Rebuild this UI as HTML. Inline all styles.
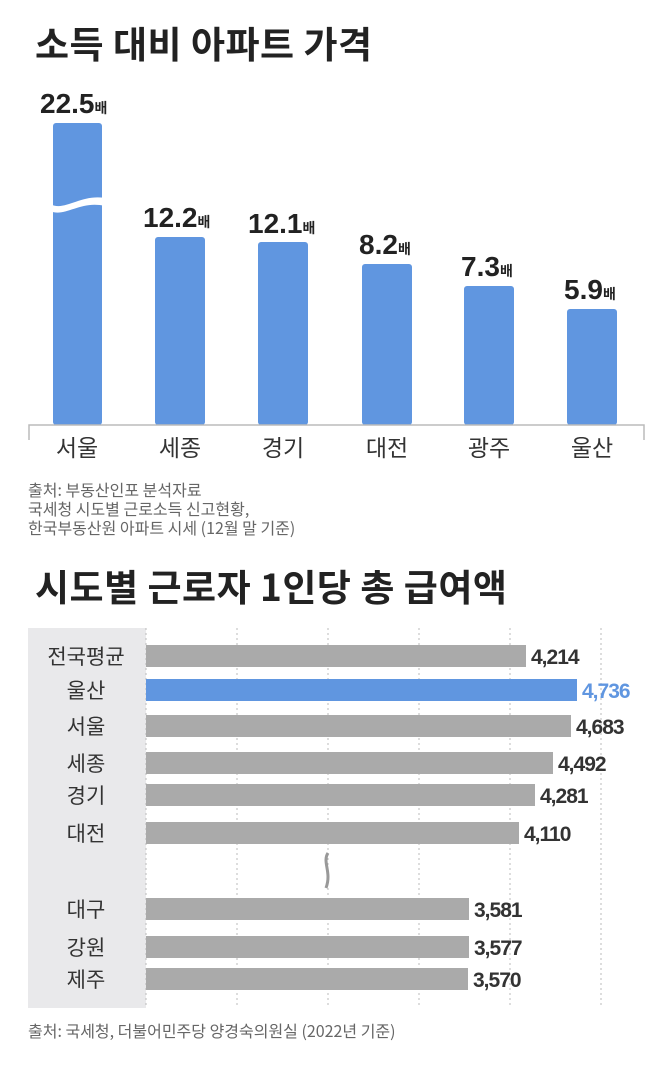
<!DOCTYPE html>
<html><head><meta charset="utf-8"><style>
body{margin:0;width:660px;height:1073px;background:#fff;font-family:"Liberation Sans","Noto Sans CJK KR",sans-serif;overflow:hidden}
</style></head><body>
<svg width="660" height="1073" xmlns="http://www.w3.org/2000/svg" style="position:absolute;left:0;top:0">
<g font-family="'Noto Sans CJK KR',sans-serif">
<text x="35" y="58" font-size="37" font-weight="700" fill="#222" letter-spacing="0.5">소득 대비 아파트 가격</text>
<g fill="#6096e0">
<rect x="53" y="123" width="49" height="302" rx="3"/>
<rect x="155" y="237" width="50" height="188" rx="3"/>
<rect x="258" y="242" width="50" height="183" rx="3"/>
<rect x="362" y="264" width="50" height="161" rx="3"/>
<rect x="464" y="286" width="50" height="139" rx="3"/>
<rect x="567" y="309" width="50" height="116" rx="3"/>
</g>
<path d="M50 204 C65 212,80 194,105 198 L105 206 C80 200,65 218,50 211 Z" fill="#fff"/>
<g font-family="'Liberation Sans','Noto Sans CJK KR',sans-serif" font-weight="700" fill="#222">
<text x="40" y="113" font-size="28">22.5<tspan font-size="14">배</tspan></text>
<text x="143" y="227" font-size="28">12.2<tspan font-size="14">배</tspan></text>
<text x="248" y="233" font-size="28">12.1<tspan font-size="14">배</tspan></text>
<text x="359" y="254" font-size="28">8.2<tspan font-size="14">배</tspan></text>
<text x="461" y="276" font-size="28">7.3<tspan font-size="14">배</tspan></text>
<text x="564" y="299" font-size="28">5.9<tspan font-size="14">배</tspan></text>
</g>
<path d="M29 440 V425 H644 V440" stroke="#bbb" stroke-width="1.5" fill="none"/>
<g font-size="23" fill="#333" text-anchor="middle">
<text x="77" y="456">서울</text><text x="180" y="456">세종</text><text x="283" y="456">경기</text>
<text x="387" y="456">대전</text><text x="489" y="456">광주</text><text x="592" y="456">울산</text>
</g>
<g font-size="16" fill="#666">
<text x="28" y="496">출처: 부동산인포 분석자료</text>
<text x="28" y="515">국세청 시도별 근로소득 신고현황,</text>
<text x="28" y="534">한국부동산원 아파트 시세 (12월 말 기준)</text>
</g>
<text x="35" y="601" font-size="37" font-weight="700" fill="#222" letter-spacing="0.5">시도별 근로자 1인당 총 급여액</text>
<rect x="28" y="628" width="118" height="380" fill="#e9e9eb"/>
<g stroke="#bbb" stroke-dasharray="2,3" stroke-width="1">
<line x1="146" y1="628" x2="146" y2="1008"/><line x1="237" y1="628" x2="237" y2="1008"/>
<line x1="328" y1="628" x2="328" y2="1008"/><line x1="419" y1="628" x2="419" y2="1008"/>
<line x1="510" y1="628" x2="510" y2="1008"/><line x1="601" y1="628" x2="601" y2="1008"/>
</g>
<g fill="#aaaaaa">
<rect x="146" y="645" width="380" height="22"/>
<rect x="146" y="679" width="431" height="22" fill="#6096e0"/>
<rect x="146" y="715" width="425" height="22"/>
<rect x="146" y="752" width="407" height="22"/>
<rect x="146" y="784" width="389" height="22"/>
<rect x="146" y="822" width="373" height="22"/>
<rect x="146" y="898" width="323" height="22"/>
<rect x="146" y="936" width="323" height="22"/>
<rect x="146" y="968" width="322" height="22"/>
</g>
<path d="M328 853 C322 862,332 872,326 888" stroke="#999" stroke-width="3" fill="none"/>
<g font-size="21" fill="#333" text-anchor="middle">
<text x="86" y="664">전국평균</text><text x="86" y="698">울산</text><text x="86" y="734">서울</text>
<text x="86" y="771">세종</text><text x="86" y="803">경기</text><text x="86" y="841">대전</text>
<text x="86" y="917">대구</text><text x="86" y="955">강원</text><text x="86" y="987">제주</text>
</g>
<g font-family="'Liberation Sans','Noto Sans CJK KR',sans-serif" font-size="21" font-weight="700" fill="#333" letter-spacing="-1">
<text x="531" y="664">4,214</text><text x="582" y="698" fill="#6096e0">4,736</text>
<text x="576" y="734">4,683</text><text x="558" y="771">4,492</text><text x="540" y="803">4,281</text>
<text x="524" y="841">4,110</text><text x="474" y="917">3,581</text><text x="474" y="955">3,577</text>
<text x="473" y="987">3,570</text>
</g>
<text x="28" y="1037" font-size="16" fill="#666">출처: 국세청, 더불어민주당 양경숙의원실 (2022년 기준)</text>
</g>
</svg>
</body></html>
